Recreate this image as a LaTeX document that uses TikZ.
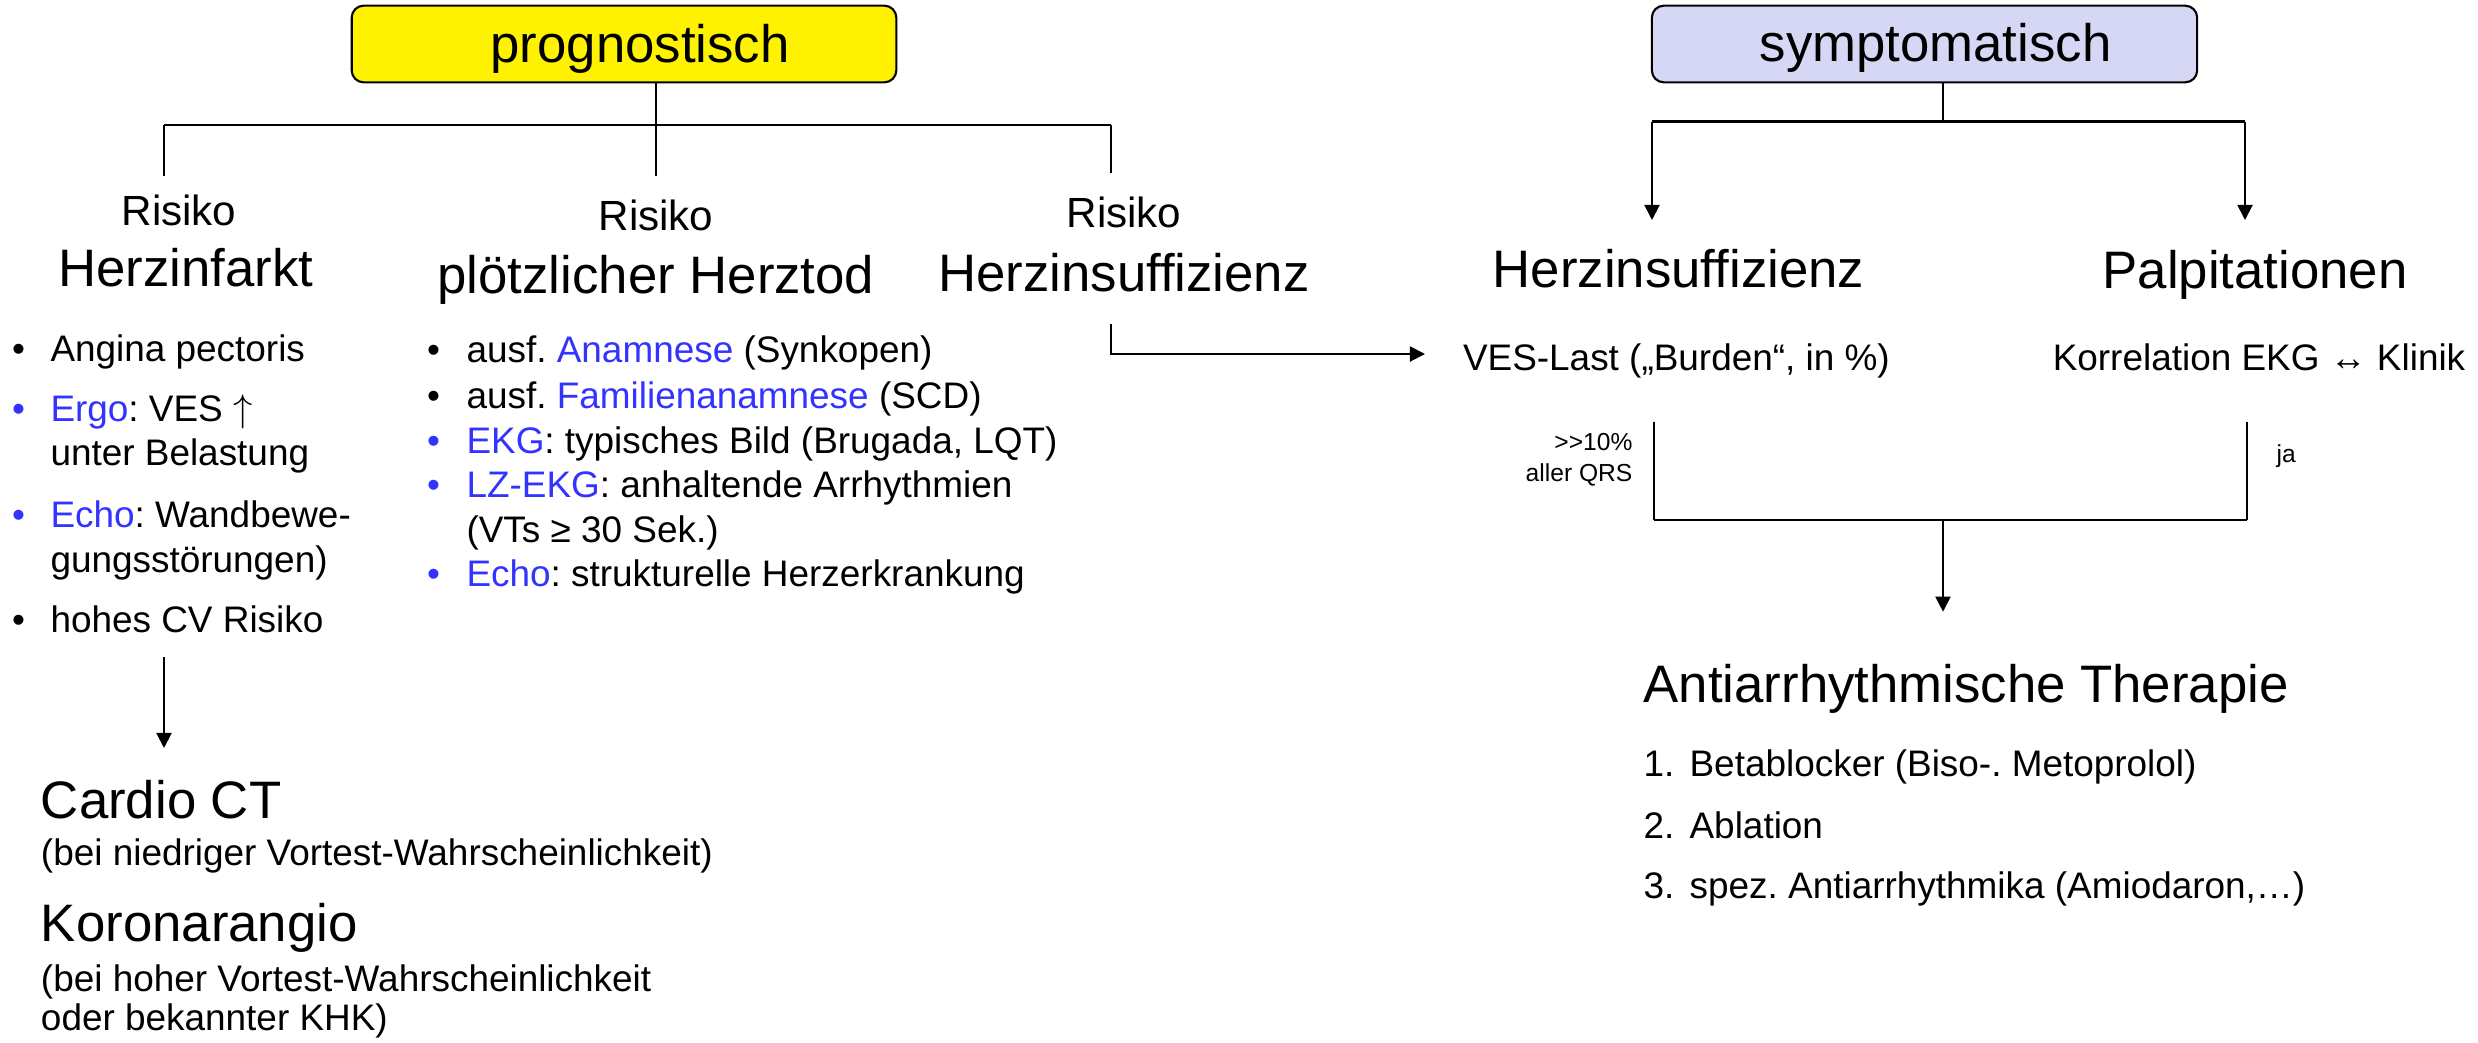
\documentclass[tikz,border=0pt]{standalone}
\usepackage{fontspec}
\setmainfont{Liberation Sans}
\usetikzlibrary{arrows.meta}
\definecolor{lblue}{RGB}{51,51,255}
\definecolor{lav}{RGB}{214,214,245}
\begin{document}
\frenchspacing
\begin{tikzpicture}[x=0.01cm,y=-0.01cm,
  every node/.style={inner sep=0pt, outer sep=0pt},
  big/.style={font=\fontsize{15}{18}\selectfont},
  mid/.style={font=\fontsize{12}{14}\selectfont},
  txt/.style={font=\fontsize{10.5}{12.6}\selectfont},
  sml/.style={font=\fontsize{7}{8.4}\selectfont},
  headbox/.style={draw=black, line width=0.6pt, rounded corners=3.4pt},
  ln/.style={line width=0.5pt},
  hln/.style={line width=0.7pt},
  arr/.style={line width=0.55pt, -{Triangle[length=4.3pt,width=4.3pt]}},
  bl/.style={txt, anchor=base west},
]
\useasboundingbox (0,0) rectangle (2478,1042);

% ---------- head boxes ----------
\node[headbox, fill=yellow, minimum width=5.443cm, minimum height=0.766cm] (prog) at (624,44) {};
\node[big, anchor=base] (progt) at (640,62.7) {prognostisch};
\node[headbox, fill=lav, minimum width=5.45cm, minimum height=0.766cm] (sym) at (1924.5,44) {};
\node[big, anchor=base] (symt) at (1935.5,61.7) {symptomatisch};

% ---------- left tree ----------
\coordinate (pj) at (656,125);
\coordinate (pl) at (164,125);
\coordinate (pr) at (1111,125);
\coordinate (dl) at (164,176);
\coordinate (dm) at (656,176);
\coordinate (dr) at (1111,173);
\draw[ln] (prog.south -| pj) -- (pj);
\draw[hln] (pl) -- (pr);
\draw[ln] (pl) -- (dl);
\draw[ln] (pj) -- (dm);
\draw[ln] (pr) -- (dr);

\node[mid, anchor=base] (r1) at (179,225.7) {Risiko};
\node[big, anchor=base] (hi1) at (186,286.7) {Herzinfarkt};
\node[mid, anchor=base] (r2) at (656,230) {Risiko};
\node[big, anchor=base] (ph) at (656,293) {plötzlicher Herztod};
\node[mid, anchor=base] (r3) at (1124,227.7) {Risiko};
\node[big, anchor=base] (hs1) at (1124,291) {Herzinsuffizienz};

% left bullet list
\node[bl] (lb1) at (12,361) {•};
\node[bl] (lt1) at (50.5,361) {Angina pectoris};
\node[bl, text=lblue] (lb2) at (12,421.7) {•};
\node[bl] (lt2) at (50.5,421.7) {\textcolor{lblue}{Ergo}: VES $\uparrow$};
\node[bl] (lt2b) at (50.5,465.7) {unter Belastung};
\node[bl, text=lblue] (lb3) at (12,527.7) {•};
\node[bl] (lt3) at (50.5,527.7) {\textcolor{lblue}{Echo}: Wandbewe-};
\node[bl] (lt3b) at (50.5,572.3) {gungsstörungen)};
\node[bl] (lb4) at (12,632.7) {•};
\node[bl] (lt4) at (50.5,632.7) {hohes CV Risiko};

% middle bullet list
\node[bl] (mb1) at (427,362.7) {•};
\node[bl] (mt1) at (466.5,362.7) {ausf. \textcolor{lblue}{Anamnese} (Synkopen)};
\node[bl] (mb2) at (427,408.3) {•};
\node[bl] (mt2) at (466.5,408.3) {ausf. \textcolor{lblue}{Familienanamnese} (SCD)};
\node[bl, text=lblue] (mb3) at (427,453.3) {•};
\node[bl] (mt3) at (466.5,453.3) {\textcolor{lblue}{EKG}: typisches Bild (Brugada, LQT)};
\node[bl, text=lblue] (mb4) at (427,497.3) {•};
\node[bl] (mt4) at (466.5,497.3) {\textcolor{lblue}{LZ-EKG}: anhaltende Arrhythmien};
\node[bl] (mt4b) at (466.5,542.3) {(VTs ≥ 30 Sek.)};
\node[bl, text=lblue] (mb5) at (427,586.7) {•};
\node[bl] (mt5) at (466.5,586.7) {\textcolor{lblue}{Echo}: strukturelle Herzerkrankung};

% arrow to Cardio CT
\coordinate (la1) at (164,656.7);
\coordinate (la2) at (164,748);
\draw[arr] (la1) -- (la2);

\node[big, anchor=base west] (cct) at (41,818) {Cardio CT};
\node[bl] (cct2) at (41,865) {(bei niedriger Vortest-Wahrscheinlichkeit)};
\node[big, anchor=base west] (kor) at (41,941.7) {Koronarangio};
\node[bl] (kor2) at (41,991.7) {(bei hoher Vortest-Wahrscheinlichkeit};
\node[bl] (kor3) at (41,1030) {oder bekannter KHK)};

% ---------- right tree ----------
\coordinate (sj) at (1943,121.7);
\coordinate (sl) at (1652,121.7);
\coordinate (sr) at (2245,121.7);
\coordinate (sld) at (1652,220);
\coordinate (srd) at (2245,220);
\draw[ln] (sym.south -| sj) -- (sj);
\draw[hln] (sl) -- (sr);
\draw[arr] (sl) -- (sld);
\draw[arr] (sr) -- (srd);

\node[big, anchor=base] (hs2) at (1678.5,287.3) {Herzinsuffizienz};
\node[big, anchor=base] (pal) at (2255,288) {Palpitationen};
\node[txt, anchor=base west] (ves) at (1463,370) {VES-Last („Burden“, in \%)};
\node[txt, anchor=base] (kek) at (2259,370) {Korrelation EKG ↔ Klinik};

% arrow from Risiko Herzinsuffizienz to VES-Last
\coordinate (ha1) at (1111,324);
\coordinate (ha2) at (1425,354);
\draw[arr] (ha1) |- (ha2);

% bracket
\coordinate (bl1) at (1654,421.7);
\coordinate (bl2) at (1654,520);
\coordinate (br1) at (2247,421.7);
\coordinate (br2) at (2247,520);
\coordinate (bm) at (1943,520);
\coordinate (bt) at (1943,611.7);
\draw[ln] (bl1) -- (bl2);
\draw[ln] (br1) -- (br2);
\draw[hln] (bl2) -- (br2);
\draw[arr] (bm) -- (bt);

\node[sml, anchor=base east] (p10) at (1632.4,450.7) {>{}>10\%};
\node[sml, anchor=base east] (qrs) at (1632.4,481.7) {aller QRS};
\node[sml, anchor=base west] (ja) at (2276.6,462) {ja};

\node[big, anchor=base west] (at) at (1643.7,702.7) {Antiarrhythmische Therapie};
\node[bl] (at1) at (1643.7,776.7) {\makebox[0.459cm][l]{1.}Betablocker (Biso-. Metoprolol)};
\node[bl] (at2) at (1643.7,838.3) {\makebox[0.459cm][l]{2.}Ablation};
\node[bl] (at3) at (1643.7,898.3) {\makebox[0.459cm][l]{3.}spez. Antiarrhythmika (Amiodaron,…)};
\end{tikzpicture}
\end{document}
